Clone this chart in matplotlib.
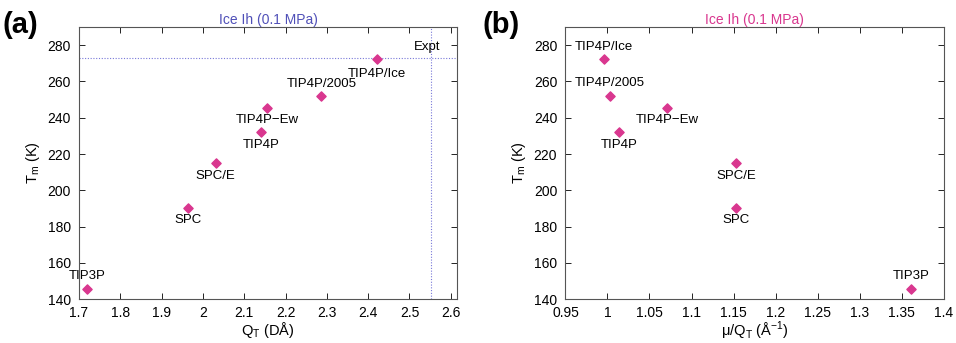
import matplotlib
matplotlib.use('Agg')
import matplotlib.pyplot as plt

plt.rcParams['font.family'] = ['Liberation Sans', 'DejaVu Sans']

models = ['TIP3P', 'SPC', 'SPC/E', 'TIP4P', 'TIP4P\u2212Ew', 'TIP4P/2005', 'TIP4P/Ice']
tm = [145.6, 190.5, 215.0, 232.0, 245.5, 252.1, 272.2]
qt = [1.719, 1.965, 2.031, 2.140, 2.155, 2.287, 2.422]
mu_qt = [1.361, 1.153, 1.153, 1.014, 1.071, 1.003, 0.996]
tm_expt = 273.15
qt_expt = 2.553

# label placement: (dx points, dy points) relative to marker
off_a = [(0, 9), (0, -9), (0, -9), (0, -9), (0, -9), (0, 8.5), (0, -10.5)]
off_b = [(0, 9), (0, -9), (0, -9), (0, -9), (0, -9), (0, 9), (0, 9)]

pink = '#d9378f'
blue = '#5050b8'

fig = plt.figure(figsize=(9.56, 3.43), dpi=100)
ax1 = fig.add_axes([0.0826, 0.128, 0.3954, 0.793])
ax2 = fig.add_axes([0.5915, 0.128, 0.3955, 0.793])

for ax in (ax1, ax2):
    ax.set_ylim(140, 290)
    ax.set_yticks(range(140, 281, 20))
    ax.tick_params(direction='in', top=True, right=True, labelsize=10, length=4, width=0.6)
    ax.tick_params(axis='x', pad=5)
    ax.tick_params(axis='y', pad=6)
    for s in ax.spines.values():
        s.set_linewidth(0.8)
        s.set_color('#555555')
    ax.set_ylabel('T$_\\mathregular{m}$ (K)', fontsize=10.5, labelpad=4)

# (a)
ax1.axhline(tm_expt, color='#7878d8', lw=0.8, ls=(0, (1, 1.5)))
ax1.axvline(qt_expt, color='#7878d8', lw=0.8, ls=(0, (1, 1.5)))
ax1.scatter(qt, tm, marker='D', s=22, color=pink, zorder=3)
for m, x, y, o in zip(models, qt, tm, off_a):
    ax1.annotate(m, (x, y), xytext=o, textcoords='offset points', ha='center', va='center', fontsize=9.5)
ax1.text(qt_expt - 0.01, tm_expt + 2.5, 'Expt', ha='center', va='bottom', fontsize=9.5)
ax1.set_xlim(1.7, 2.615)
ax1.set_xticks([1.7, 1.8, 1.9, 2.0, 2.1, 2.2, 2.3, 2.4, 2.5, 2.6])
ax1.set_xticklabels(['1.7', '1.8', '1.9', '2', '2.1', '2.2', '2.3', '2.4', '2.5', '2.6'])
ax1.set_xlabel('Q$_\\mathregular{T}$ (D\u00c5)', fontsize=10.5, labelpad=0)
ax1.set_title('Ice Ih (0.1 MPa)', color=blue, fontsize=10, pad=2)

# (b)
ax2.scatter(mu_qt, tm, marker='D', s=22, color=pink, zorder=3)
for m, x, y, o in zip(models, mu_qt, tm, off_b):
    ax2.annotate(m, (x, y), xytext=o, textcoords='offset points', ha='center', va='center', fontsize=9.5)
ax2.set_xlim(0.95, 1.4)
ax2.set_xticks([0.95, 1.0, 1.05, 1.1, 1.15, 1.2, 1.25, 1.3, 1.35, 1.4])
ax2.set_xticklabels(['0.95', '1', '1.05', '1.1', '1.15', '1.2', '1.25', '1.3', '1.35', '1.4'])
ax2.set_xlabel('\u03bc/Q$_\\mathregular{T}$ (\u00c5$^{\\mathregular{-1}}$)', fontsize=10.5, labelpad=0)
ax2.set_title('Ice Ih (0.1 MPa)', color=pink, fontsize=10, pad=2)

fig.text(0.003, 0.905, '(a)', fontsize=21, fontweight='bold')
fig.text(0.505, 0.905, '(b)', fontsize=21, fontweight='bold')

fig.savefig('out.png', dpi=100)
